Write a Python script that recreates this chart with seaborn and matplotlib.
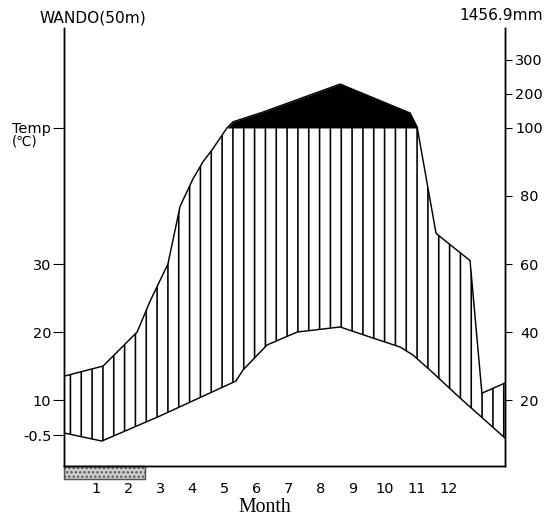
import numpy as np
import pandas as pd
import seaborn as sns
import matplotlib.pyplot as plt
from matplotlib.patches import Rectangle

# Walter-Lieth climate diagram, WANDO (50m)
station = "WANDO(50m)"
annual_precip = "1456.9mm"

# temperature curve (month position along the axis, degC on chart scale)
temp_x = [0, 1.18, 2.99, 5.36, 5.58, 6.33, 7.27, 8.61, 9.54, 10.48, 10.88, 11.41, 12.35, 13.75]
temp_c = [5.15, 3.97, 7.65, 12.79, 14.41, 18.09, 20.0, 20.74, 19.26, 17.79, 16.62, 14.41, 10.29, 4.41]

# precipitation curve (mm)
prec_x = [0, 1.22, 2.28, 2.68, 3.24, 3.62, 4.02, 4.33, 4.65, 5.08, 5.27, 6.21, 8.61, 10.79, 11.01, 11.6, 12.66, 13.03, 13.75]
prec_mm = [27, 30, 40, 49, 60, 77, 85, 90, 94, 100, 118, 147, 229, 144, 103, 69, 61, 22, 25]

months = list(range(1, 13))
frost_period = (0, 2.53)

left_ticks = [4.85, 10, 20, 30, 50]
left_labels = ["-0.5", "10", "20", "30", "Temp"]
right_ticks_mm = [20, 40, 60, 80, 100, 200, 300]


def scale_prec(p):
    # 20 mm = 10 degC up to 100 mm, compressed 1/10 above
    p = np.asarray(p, dtype=float)
    return np.where(p <= 100, p / 2, 50 + (p - 100) / 20)


sns.set_style("white")
plt.rcParams['font.family'] = ['DejaVu Sans']
plt.rcParams['hatch.linewidth'] = 0.9
plt.rcParams['text.color'] = 'black'
plt.rcParams['xtick.color'] = 'black'
plt.rcParams['ytick.color'] = 'black'

W, H, DPI = 546, 530, 130
fig = plt.figure(figsize=(W / DPI, H / DPI), dpi=DPI)
ax = fig.add_axes([64 / W, 64 / H, 441 / W, 438 / H])
ylim = (0.3, 64.7)
xlim = (0, 13.75)

prec_s = scale_prec(prec_mm)
xx = np.linspace(xlim[0], xlim[1], 2000)
tt = np.interp(xx, temp_x, temp_c)
ss = np.interp(xx, prec_x, prec_s)

# humid period (vertical hatching) and >100mm (black)
ax.fill_between(xx, tt, np.minimum(ss, 50), facecolor="none", edgecolor="black",
                hatch="||", linewidth=0)
ax.fill_between(xx, 50, ss, where=ss > 50, color="black", linewidth=0, interpolate=True)

df_t = pd.DataFrame({"x": temp_x, "y": temp_c})
df_p = pd.DataFrame({"x": prec_x, "y": prec_s})
sns.lineplot(data=df_t, x="x", y="y", color="black", lw=0.8, sort=False, estimator=None, ax=ax)
sns.lineplot(data=df_p, x="x", y="y", color="black", lw=0.8, sort=False, estimator=None, ax=ax)

ax.set_xlim(*xlim)
ax.set_ylim(*ylim)
ax.set_xlabel("")
ax.set_ylabel("")

ax.set_xticks(months)
ax.set_xticklabels([str(m) for m in months])
ax.tick_params(axis="x", direction="in", length=3, width=0.8, pad=9, labelsize=8)
ax.set_yticks(left_ticks)
ax.set_yticklabels(left_labels)
ax.tick_params(axis="y", direction="out", length=6, width=0.6, pad=1, labelsize=8)

ax2 = ax.twinx()
ax2.set_ylim(*ylim)
ax2.set_yticks(scale_prec(right_ticks_mm))
ax2.set_yticklabels([str(v) for v in right_ticks_mm])
ax2.tick_params(axis="y", direction="out", length=4, width=0.6, pad=9.4, labelsize=8)
for lab in ax2.get_yticklabels():
    lab.set_horizontalalignment("center")

for a in (ax, ax2):
    a.spines["top"].set_visible(False)
    for s in ("left", "right", "bottom"):
        a.spines[s].set_linewidth(0.8)
        a.spines[s].set_color("black")

# frost months bar under the axis
ax.add_patch(Rectangle((frost_period[0], -0.03), frost_period[1] - frost_period[0], 0.03,
                       transform=ax.get_xaxis_transform(), clip_on=False,
                       facecolor="#cfcfcf", edgecolor="#555555", hatch=".....", lw=0.8))

fig.text(12 / W, 1 - 142 / H, "(℃)", ha="left", va="center", fontsize=7.5)
fig.text(93 / W, 1 - 18 / H, station, ha="center", va="center", fontsize=8.5)
fig.text(501 / W, 1 - 16 / H, annual_precip, ha="center", va="center", fontsize=8.5)
fig.text(265 / W, 1 - 508 / H, "Month", ha="center", va="center", fontsize=11,
         family=["Liberation Serif", "DejaVu Serif"])

fig.savefig("out.png", dpi=DPI)
